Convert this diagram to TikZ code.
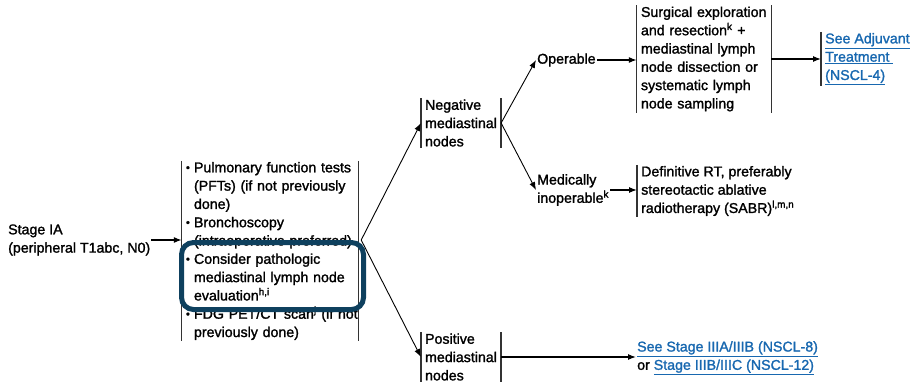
\documentclass[tikz,border=0pt]{standalone}
\usepackage{fontspec}
\setmainfont{Liberation Sans}[FakeBold=1.5]
\usetikzlibrary{arrows.meta}
\definecolor{linkblue}{RGB}{24,104,176}
\definecolor{framenavy}{RGB}{14,64,94}
\newcommand{\lnk}[1]{\textcolor{linkblue}{\underline{#1}}}
\newcommand{\bul}{\hspace*{2pt}\makebox[8pt][l]{\raisebox{1pt}{\fontsize{11}{11}\selectfont\textbullet}}}
\newcommand{\ind}{\hspace*{10pt}}
\begin{document}
\begin{tikzpicture}[x=1pt,y=-1pt,
  every node/.style={font=\fontsize{14.2}{18.3}\selectfont},
  box node/.style={align=left,inner xsep=4pt,inner ysep=1pt},
  label node/.style={align=left,anchor=west,inner xsep=1pt,inner ysep=0pt},
  bar/.style={line width=1.3pt,color=black!80},
  arr/.style={-{Latex[length=8pt,width=6pt]},line width=1.2pt},
  thin arr/.style={-{Latex[length=8pt,width=6pt]},line width=0.9pt}]
  \useasboundingbox (0,0) rectangle (910,383);
  \node[label node] (stage) at (7,240) {Stage IA\\(peripheral T1abc, N0)};
  \node[box node,inner xsep=2pt,text width=172pt] (tests) at (270,251)
    {\bul Pulmonary function tests\\
     \ind(PFTs) (if not previously\\
     \ind done)\\
     \bul Bronchoscopy\\
     \ind(intraoperative preferred)\\
     \bul Consider pathologic\\
     \ind mediastinal lymph node\\
     \ind evaluation\textsuperscript{h,i}\\
     \bul FDG~PET/CT~scan\textsuperscript{j}~(if~not\\
     \ind previously done)};
  \node[box node] (neg) at (461,123) {Negative\\mediastinal\\nodes};
  \node[box node] (pos) at (461,357) {Positive\\mediastinal\\nodes};
  \node[label node] (oper) at (536,60) {Operable};
  \node[label node] (inop) at (536,190) {Medically\\inoperable\textsuperscript{k}};
  \node[box node,text width=126pt] (surg) at (704,59)
    {Surgical exploration\\and resection\textsuperscript{k} +\\mediastinal lymph\\node dissection or\\systematic lymph\\node sampling};
  \node[box node,anchor=west] (rt) at (637,191)
    {Definitive RT, preferably\\stereotactic ablative\\radiotherapy (SABR)\textsuperscript{l,m,n}};
  \node[box node,anchor=west] (adj) at (821,59)
    {\lnk{See Adjuvant}\\\lnk{Treatment\ }\\\lnk{(NSCL-4)}};
  \node[label node] (stg3) at (636,358)
    {\lnk{See Stage IIIA/IIIB (NSCL-8)}\\or \lnk{Stage IIIB/IIIC (NSCL-12)}};
  % side bars of the boxes
  \foreach \n in {tests,neg,pos,surg}
    \draw[bar] (\n.north west) -- (\n.south west) (\n.north east) -- (\n.south east);
  \foreach \n in {rt,adj}
    \draw[bar] (\n.north west) -- (\n.south west);
  % connectors
  \coordinate (fork) at ([xshift=3pt]tests.east |- stage.east);
  \path[arr]
   (stage.east) edge (stage.east -| tests.west)
   (oper.east) edge (oper.east -| surg.west)
   (inop.east) edge (inop.east -| rt.west)
   (surg.east) edge (surg.east -| adj.west)
   (pos.east) edge (pos.east -| stg3.west);
  \path[thin arr]
   (fork) edge (neg.west)
   (fork) edge (pos.west)
   (neg.east) edge (oper.west)
   (neg.east) edge (inop.west);
  % highlight round the lymph node item
  \draw[framenavy,line width=5pt,rounded corners=12pt] (181.5,242.5) rectangle (363.5,309.5);
\end{tikzpicture}
\end{document}
